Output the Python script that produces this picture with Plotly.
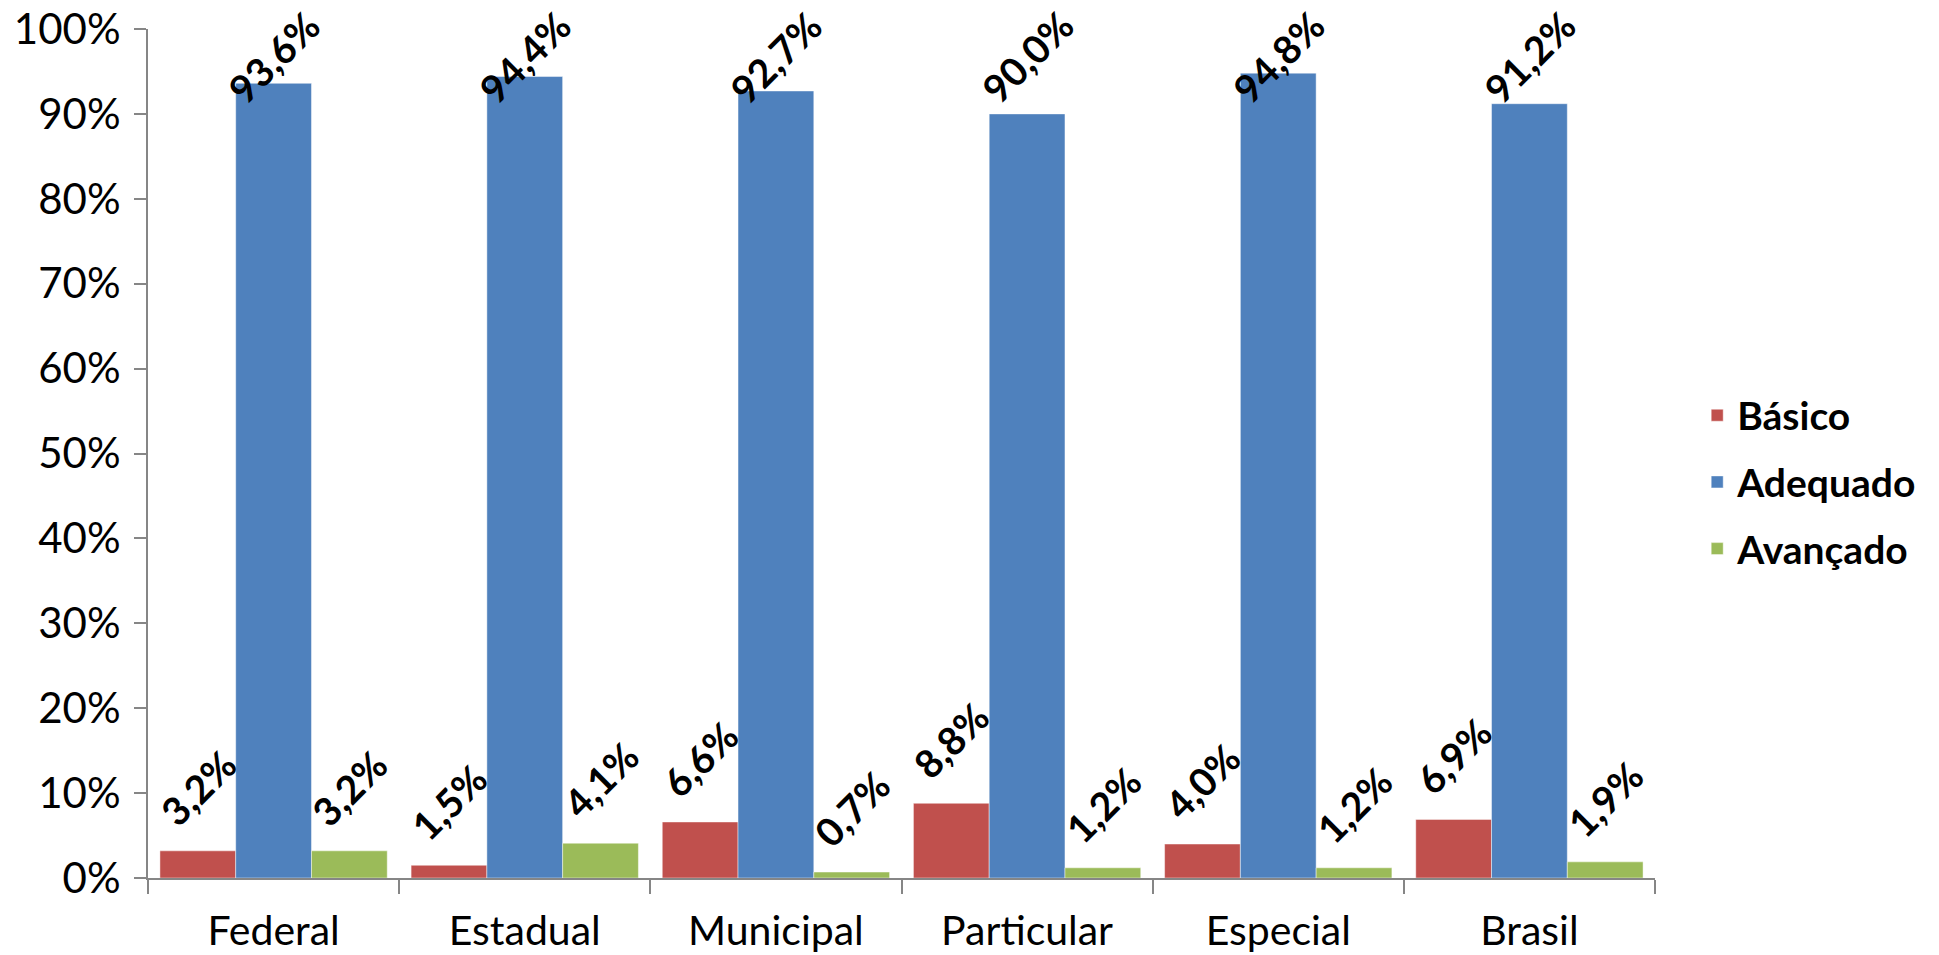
import plotly.graph_objects as go

categories = ["Federal", "Estadual", "Municipal", "Particular", "Especial", "Brasil"]
basico = [0.032, 0.015, 0.066, 0.088, 0.040, 0.069]
adequado = [0.936, 0.944, 0.927, 0.900, 0.948, 0.912]
avancado = [0.032, 0.041, 0.007, 0.012, 0.012, 0.019]
series_names = ["Básico", "Adequado", "Avançado"]
y_ticks = [0.0, 0.1, 0.2, 0.3, 0.4, 0.5, 0.6, 0.7, 0.8, 0.9, 1.0]

colors = ["#C0504D", "#4F81BD", "#9BBB59"]
W, H = 1939, 955
ML, MR, MT, MB = 148, 284, 29, 77
BARGAP = 0.095
LABEL_CAP = 0.893  # labels of taller bars are kept inside the chart area (as Excel does)

fig = go.Figure()
for name, vals, col in zip(series_names, [basico, adequado, avancado], colors):
    fig.add_trace(go.Bar(
        x=categories, y=vals, name=name,
        marker=dict(color=col, line=dict(color="rgba(255,255,255,0.45)", width=1)),
        legendgroup=name,
    ))

plot_w = W - ML - MR
bar_w = plot_w / len(categories) * (1 - BARGAP) / 3

for si, vals in enumerate([basico, adequado, avancado]):
    for cat, v in zip(categories, vals):
        txt = f"{v*100:.1f}%".replace(".", ",")
        fig.add_annotation(
            x=cat, y=min(v, LABEL_CAP), xref="x", yref="y",
            text=txt, showarrow=False, textangle=-45,
            xanchor="center", yanchor="middle",
            xshift=(si - 1) * bar_w, yshift=63, borderpad=0,
            font=dict(family="Lato", size=39, color="black", weight="bold"),
        )

axis_col = "#868686"
fig.update_layout(
    width=W, height=H,
    margin=dict(l=ML, r=MR, t=MT, b=MB, pad=0, autoexpand=False),
    paper_bgcolor="white", plot_bgcolor="white",
    barmode="group", bargap=BARGAP, bargroupgap=0,
    font=dict(family="Lato", color="black"),
    showlegend=True,
    legend=dict(
        x=1.028, y=0.466, xref="paper", yref="paper",
        xanchor="left", yanchor="middle",
        font=dict(family="Lato", size=39, color="black", weight="bold"),
        traceorder="grouped", tracegroupgap=13, itemwidth=30,
        bgcolor="rgba(0,0,0,0)",
    ),
    xaxis=dict(
        type="category", showline=True, linecolor=axis_col, linewidth=2,
        ticks="outside", tickson="boundaries", ticklen=14, tickcolor=axis_col, tickwidth=2,
        tickfont=dict(family="Lato", size=41, color="black"),
        ticklabelstandoff=16, showgrid=False, zeroline=False, automargin=False,
    ),
    yaxis=dict(
        range=[0, 1], tickvals=y_ticks, tickformat=".0%",
        showline=True, linecolor=axis_col, linewidth=2,
        ticks="outside", ticklen=12, tickcolor=axis_col, tickwidth=2,
        tickfont=dict(family="Lato", size=42, color="black"),
        ticklabelstandoff=5, showgrid=False, zeroline=False, automargin=False,
    ),
)

fig.write_html("out.html")
